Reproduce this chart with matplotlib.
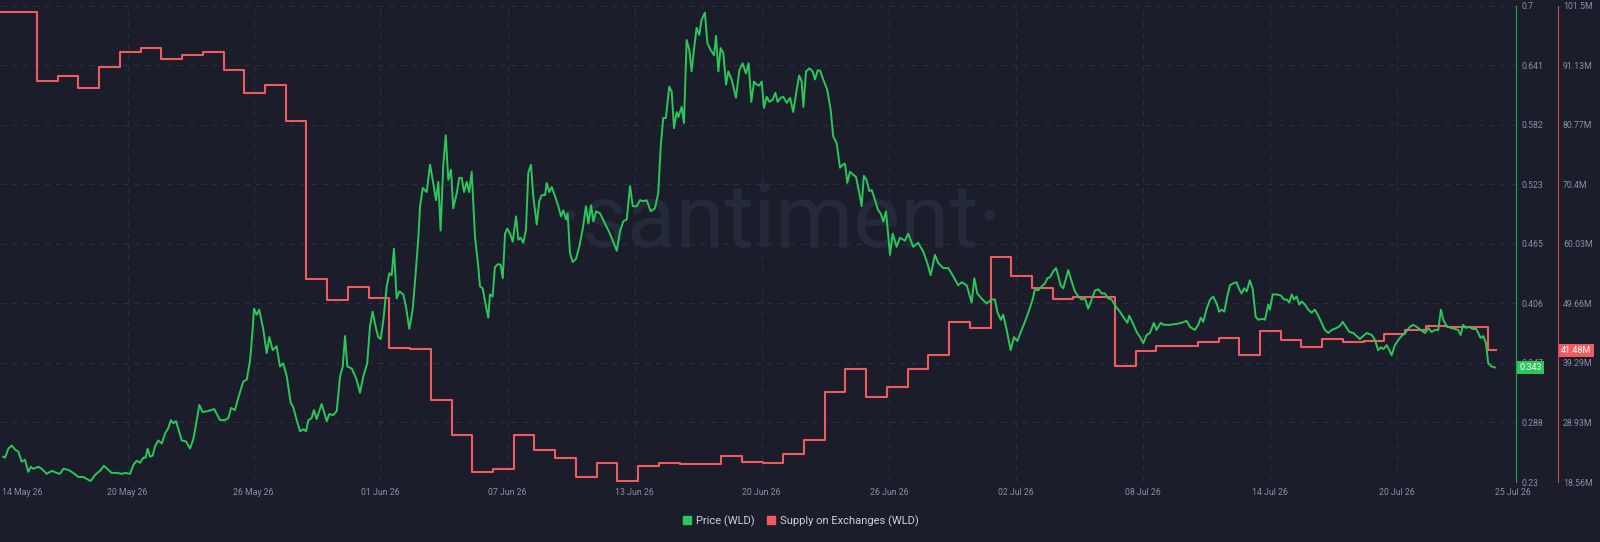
import numpy as np
import matplotlib.pyplot as plt
import matplotlib.transforms as mtransforms
from matplotlib.lines import Line2D

plt.rcParams['font.family'] = ['Roboto', 'DejaVu Sans']

# Zeitachse: Tage seit 14 May 26 00:00
price_days = [
    0.37, 0.46, 0.62, 0.78, 0.94, 1.10, 1.26, 1.42, 1.58, 1.70, 1.82, 2.06, 2.23, 2.47, 2.71, 2.95,
    3.11, 3.27, 3.51, 3.75, 3.99, 4.23, 4.40, 4.59, 4.80, 5.04, 5.23, 5.44, 5.60, 5.85, 6.09, 6.25,
    6.49, 6.65, 6.81, 6.97, 7.13, 7.24, 7.34, 7.45, 7.58, 7.69, 7.85, 8.02, 8.18, 8.33, 8.46, 8.58,
    8.71, 8.98, 9.19, 9.38, 9.54, 9.70, 9.83, 9.99, 10.26, 10.55, 10.83, 11.07, 11.23, 11.36, 11.55, 11.71,
    11.95, 12.12, 12.28, 12.39, 12.47, 12.60, 12.72, 12.92, 13.08, 13.21, 13.37, 13.56, 13.72, 13.88, 14.05, 14.24,
    14.36, 14.53, 14.69, 14.85, 14.98, 15.09, 15.25, 15.36, 15.49, 15.73, 15.98, 16.10, 16.29, 16.46, 16.62, 16.75,
    16.86, 16.97, 17.18, 17.42, 17.58, 17.74, 17.93, 18.06, 18.19, 18.35, 18.46, 18.58, 18.71, 18.87, 19.00, 19.11,
    19.22, 19.35, 19.48, 19.67, 19.80, 19.96, 20.12, 20.23, 20.39, 20.48, 20.61, 20.80, 20.96, 21.09, 21.25, 21.36,
    21.47, 21.60, 21.72, 21.84, 21.97, 22.08, 22.25, 22.37, 22.49, 22.60, 22.73, 22.85, 22.97, 23.13, 23.29, 23.37,
    23.50, 23.69, 23.77, 23.85, 23.98, 24.09, 24.25, 24.37, 24.47, 24.58, 24.69, 24.82, 24.95, 25.11, 25.22, 25.33,
    25.46, 25.59, 25.70, 25.83, 25.94, 26.11, 26.23, 26.35, 26.51, 26.59, 26.71, 26.83, 26.99, 27.15, 27.28, 27.39,
    27.52, 27.60, 27.71, 27.84, 28.00, 28.16, 28.33, 28.48, 28.60, 28.73, 28.84, 28.97, 29.16, 29.40, 29.64, 29.80,
    29.97, 30.12, 30.28, 30.45, 30.61, 30.74, 30.93, 31.09, 31.25, 31.41, 31.61, 31.81, 31.97, 32.09, 32.21, 32.34,
    32.50, 32.62, 32.73, 32.86, 32.94, 33.10, 33.21, 33.34, 33.47, 33.58, 33.69, 33.82, 33.95, 34.06, 34.22, 34.34,
    34.50, 34.66, 34.76, 34.87, 34.98, 35.11, 35.24, 35.35, 35.51, 35.72, 35.88, 36.04, 36.20, 36.33, 36.46, 36.59,
    36.72, 36.84, 36.96, 37.07, 37.20, 37.33, 37.49, 37.62, 37.73, 37.88, 38.00, 38.17, 38.33, 38.48, 38.65, 38.77,
    38.89, 38.97, 39.10, 39.26, 39.42, 39.53, 39.66, 39.77, 39.93, 40.12, 40.29, 40.41, 40.58, 40.74, 40.87, 40.98,
    41.09, 41.22, 41.38, 41.51, 41.67, 41.78, 41.89, 42.02, 42.15, 42.27, 42.43, 42.58, 42.70, 42.83, 42.96, 43.07,
    43.15, 43.28, 43.47, 43.63, 43.87, 44.03, 44.27, 44.51, 44.76, 44.95, 45.11, 45.32, 45.48, 45.72, 45.96, 46.20,
    46.44, 46.61, 46.85, 47.09, 47.22, 47.36, 47.57, 47.81, 48.05, 48.21, 48.34, 48.50, 48.61, 48.78, 48.97, 49.13,
    49.29, 49.50, 49.66, 49.87, 50.03, 50.14, 50.30, 50.47, 50.63, 50.74, 50.87, 51.03, 51.16, 51.27, 51.38, 51.51,
    51.75, 51.91, 52.07, 52.23, 52.40, 52.56, 52.71, 52.88, 53.04, 53.20, 53.36, 53.52, 53.68, 53.84, 54.05, 54.24,
    54.40, 54.60, 54.69, 54.86, 55.05, 55.21, 55.37, 55.53, 55.69, 55.88, 56.01, 56.21, 56.37, 56.66, 56.98, 57.22,
    57.46, 57.62, 57.86, 58.02, 58.14, 58.26, 58.43, 58.59, 58.74, 58.91, 59.03, 59.15, 59.28, 59.42, 59.55, 59.71,
    59.87, 60.00, 60.11, 60.24, 60.36, 60.51, 60.65, 60.79, 60.92, 61.13, 61.24, 61.40, 61.48, 61.61, 61.80, 62.00,
    62.16, 62.29, 62.41, 62.53, 62.64, 62.77, 62.89, 63.01, 63.17, 63.33, 63.49, 63.65, 63.81, 63.97, 64.13, 64.29,
    64.46, 64.70, 64.86, 64.99, 65.15, 65.31, 65.50, 65.66, 65.82, 65.98, 66.15, 66.39, 66.55, 66.70, 66.83, 66.95,
    67.11, 67.24, 67.35, 67.51, 67.67, 67.83, 68.04, 68.23, 68.39, 68.56, 68.75, 68.96, 69.12, 69.28, 69.44, 69.60,
    69.73, 69.84, 70.00, 70.20, 70.40, 70.56, 70.68, 70.80, 70.93, 71.09, 71.26, 71.42, 71.53, 71.64, 71.77, 71.90,
    72.01, 72.17, 72.33,
]
price = [
    0.255, 0.254, 0.263, 0.266, 0.262, 0.260, 0.250, 0.252, 0.240, 0.245, 0.243, 0.245, 0.243, 0.238, 0.241, 0.239,
    0.238, 0.243, 0.242, 0.239, 0.235, 0.235, 0.233, 0.231, 0.237, 0.241, 0.246, 0.242, 0.239, 0.239, 0.238, 0.239,
    0.238, 0.247, 0.251, 0.249, 0.254, 0.254, 0.263, 0.255, 0.256, 0.265, 0.271, 0.268, 0.278, 0.283, 0.291, 0.288,
    0.290, 0.271, 0.270, 0.263, 0.272, 0.290, 0.306, 0.299, 0.300, 0.302, 0.291, 0.291, 0.293, 0.303, 0.301, 0.313,
    0.329, 0.331, 0.350, 0.377, 0.401, 0.395, 0.400, 0.380, 0.357, 0.373, 0.360, 0.364, 0.344, 0.347, 0.334, 0.308,
    0.304, 0.291, 0.280, 0.282, 0.280, 0.291, 0.293, 0.301, 0.292, 0.307, 0.290, 0.297, 0.296, 0.300, 0.334, 0.344,
    0.374, 0.344, 0.342, 0.331, 0.318, 0.334, 0.347, 0.383, 0.398, 0.382, 0.373, 0.371, 0.390, 0.423, 0.436, 0.434,
    0.460, 0.411, 0.418, 0.415, 0.403, 0.381, 0.400, 0.426, 0.469, 0.502, 0.520, 0.516, 0.543, 0.528, 0.508, 0.526,
    0.478, 0.543, 0.572, 0.528, 0.538, 0.500, 0.515, 0.530, 0.530, 0.516, 0.526, 0.516, 0.536, 0.472, 0.442, 0.423,
    0.421, 0.400, 0.392, 0.415, 0.413, 0.442, 0.445, 0.444, 0.431, 0.475, 0.480, 0.475, 0.467, 0.492, 0.469, 0.471,
    0.466, 0.479, 0.535, 0.543, 0.512, 0.484, 0.507, 0.513, 0.513, 0.525, 0.516, 0.521, 0.512, 0.502, 0.492, 0.498,
    0.489, 0.495, 0.456, 0.447, 0.450, 0.462, 0.480, 0.502, 0.485, 0.503, 0.487, 0.497, 0.495, 0.485, 0.475, 0.467,
    0.458, 0.477, 0.487, 0.489, 0.522, 0.502, 0.502, 0.508, 0.507, 0.508, 0.497, 0.500, 0.515, 0.561, 0.589, 0.589,
    0.620, 0.615, 0.579, 0.595, 0.590, 0.600, 0.584, 0.666, 0.656, 0.635, 0.656, 0.678, 0.671, 0.686, 0.693, 0.663,
    0.656, 0.651, 0.670, 0.635, 0.658, 0.653, 0.622, 0.635, 0.627, 0.609, 0.636, 0.643, 0.633, 0.643, 0.605, 0.625,
    0.622, 0.621, 0.625, 0.599, 0.610, 0.605, 0.607, 0.614, 0.605, 0.609, 0.610, 0.604, 0.609, 0.595, 0.617, 0.631,
    0.625, 0.600, 0.635, 0.638, 0.635, 0.627, 0.636, 0.636, 0.627, 0.617, 0.597, 0.571, 0.564, 0.540, 0.543, 0.544,
    0.525, 0.536, 0.533, 0.531, 0.515, 0.502, 0.532, 0.528, 0.517, 0.518, 0.508, 0.498, 0.495, 0.487, 0.497, 0.472,
    0.454, 0.475, 0.462, 0.471, 0.468, 0.475, 0.462, 0.466, 0.457, 0.446, 0.434, 0.454, 0.446, 0.441, 0.441, 0.433,
    0.424, 0.427, 0.424, 0.407, 0.431, 0.416, 0.411, 0.406, 0.410, 0.410, 0.397, 0.390, 0.395, 0.380, 0.360, 0.373,
    0.369, 0.380, 0.388, 0.400, 0.410, 0.420, 0.419, 0.423, 0.426, 0.431, 0.432, 0.438, 0.441, 0.433, 0.424, 0.421,
    0.439, 0.428, 0.418, 0.413, 0.410, 0.411, 0.401, 0.410, 0.419, 0.420, 0.416, 0.416, 0.411, 0.410, 0.403, 0.398,
    0.393, 0.387, 0.394, 0.387, 0.378, 0.373, 0.367, 0.375, 0.377, 0.387, 0.380, 0.387, 0.385, 0.385, 0.386, 0.387,
    0.389, 0.383, 0.380, 0.385, 0.392, 0.388, 0.401, 0.410, 0.413, 0.406, 0.398, 0.400, 0.398, 0.413, 0.424, 0.426,
    0.427, 0.420, 0.416, 0.421, 0.418, 0.429, 0.420, 0.393, 0.390, 0.391, 0.390, 0.405, 0.400, 0.415, 0.415, 0.414,
    0.410, 0.410, 0.407, 0.415, 0.410, 0.413, 0.405, 0.408, 0.405, 0.400, 0.397, 0.400, 0.394, 0.387, 0.380, 0.377,
    0.380, 0.382, 0.384, 0.388, 0.383, 0.378, 0.377, 0.374, 0.371, 0.374, 0.377, 0.375, 0.370, 0.360, 0.363, 0.361,
    0.365, 0.360, 0.355, 0.365, 0.370, 0.374, 0.378, 0.383, 0.385, 0.383, 0.380, 0.377, 0.382, 0.378, 0.380, 0.380,
    0.400, 0.390, 0.384, 0.382, 0.381, 0.380, 0.375, 0.385, 0.382, 0.383, 0.381, 0.381, 0.377, 0.372, 0.374, 0.367,
    0.347, 0.344, 0.343,
]

# Supply on Exchanges (Mio. WLD), ein Wert pro Tag ab 14 May 26
supply = [
    100.4, 100.4, 88.36, 89.2, 87.1, 90.85, 93.35, 94.05, 92.14, 92.88, 93.46, 90.22, 86.2, 87.66, 81.45, 53.9,
    50.24, 52.44, 50.64, 41.94, 41.66, 32.83, 26.68, 20.35, 20.77, 26.75, 24.1, 22.69, 19.49, 21.82, 18.7, 21.37,
    21.92, 21.69, 21.64, 23.14, 22.10, 21.82, 23.44, 25.87, 34.28, 38.23, 33.41, 35.15, 38.17, 40.67, 46.47, 45.31,
    57.67, 54.42, 52.27, 50.36, 50.81, 50.81, 38.72, 41.45, 42.2, 42.2, 42.9, 43.6, 40.67, 44.85, 43.28, 42.06,
    43.5, 42.9, 43.08, 44.4, 45.0, 45.7, 45.6, 45.6, 41.48,
]
supply_end_day = 72.4

date_tick_days = [1.28, 6.37, 12.45, 18.57, 24.70, 30.83, 36.96, 43.10, 49.23, 55.35, 61.48, 67.61, 73.20]
date_tick_labels = ['14 May 26', '20 May 26', '26 May 26', '01 Jun 26', '07 Jun 26', '13 Jun 26', '20 Jun 26',
                    '26 Jun 26', '02 Jul 26', '08 Jul 26', '14 Jul 26', '20 Jul 26', '25 Jul 26']
price_tick_labels = ['0.23', '0.288', '0.347', '0.406', '0.465', '0.523', '0.582', '0.641', '0.7']
supply_tick_labels = ['18.56M', '28.93M', '39.29M', '49.66M', '60.03M', '70.4M', '80.77M', '91.13M', '101.5M']

BG = '#1b1d2b'
GREEN = '#2bc75a'
RED = '#f05b5f'
GRID = '#2a2e40'
TXT = '#8a8fa3'

fig = plt.figure(figsize=(16, 5.42), dpi=100, facecolor=BG)
ax = fig.add_axes([0, 0.1107, 0.9475, 0.8791])
ax.set_facecolor(BG)
axp = ax.twinx()

# Supply als Stufenlinie, Preis darueber
supply_x = list(range(len(supply))) + [supply_end_day]
supply_y = supply + [supply[-1]]
ax.plot(supply_x, supply_y, color=RED, lw=1.5, drawstyle='steps-post', zorder=3)
axp.plot(price_days, price, color=GREEN, lw=1.4, zorder=3)

ax.set_xlim(0.215, 73.35)
ax.set_ylim(18.56, 101.5)
axp.set_ylim(0.23, 0.7)

ax.set_xticks(date_tick_days, date_tick_labels)
ax.set_yticks(np.linspace(18.56, 101.5, len(supply_tick_labels)), supply_tick_labels)
axp.set_yticks(np.linspace(0.23, 0.7, len(price_tick_labels)), price_tick_labels)

ax.yaxis.tick_right()
ax.tick_params(axis='y', length=0, pad=3.6, labelsize=6.3, labelcolor=TXT)
ax.tick_params(axis='x', length=0, pad=4, labelsize=6.3, labelcolor=TXT)
axp.tick_params(axis='y', length=0, pad=3.6, labelsize=6.3, labelcolor=TXT)

for a in (ax, axp):
    for s in ('left', 'top', 'bottom'):
        a.spines[s].set_visible(False)
ax.spines['right'].set_position(('outward', 30.2))
ax.spines['right'].set_color(RED)
ax.spines['right'].set_alpha(0.8)
axp.spines['right'].set_color(GREEN)
axp.spines['right'].set_alpha(0.8)

# Gitter
ax.grid(axis='y', color=GRID, ls=(0, (5, 5)), lw=0.8, zorder=0)
for d in date_tick_days[1:-1]:
    ax.axvline(d, color=GRID, ls=(0, (5, 5)), lw=0.8, zorder=0)

# Wasserzeichen
ax.text(0.515, 0.545, '\u00b7santiment\u00b7', transform=ax.transAxes, ha='center', va='center',
        fontsize=64, fontweight='normal', color='#252a3b', zorder=1)

# Letzte Werte als Marken an den Achsen
tp = mtransforms.blended_transform_factory(axp.transAxes, axp.transData)
axp.text(1.002, price[-1], f'{price[-1]:.3f}', transform=tp, ha='left', va='center', fontsize=6.5,
         color='white', bbox=dict(boxstyle='square,pad=0.25', fc=GREEN, ec='none'), clip_on=False, zorder=10)
ts = mtransforms.blended_transform_factory(ax.transAxes, ax.transData)
ax.text(1.0297, supply[-1], f'{supply[-1]:.2f}M', transform=ts, ha='left', va='center', fontsize=6.5,
        color='white', bbox=dict(boxstyle='square,pad=0.25', fc=RED, ec='none'), clip_on=False, zorder=10)

handles = [Line2D([], [], marker='s', ls='', color=GREEN, markersize=6),
           Line2D([], [], marker='s', ls='', color=RED, markersize=6)]
fig.legend(handles, ['Price (WLD)', 'Supply on Exchanges (WLD)'], loc='center', bbox_to_anchor=(0.5, 0.039),
           ncol=2, frameon=False, fontsize=8, labelcolor='#cfd1db', handletextpad=0.3, columnspacing=1.0,
           handlelength=1.0)

fig.savefig('out.png', dpi=100, facecolor=BG)
